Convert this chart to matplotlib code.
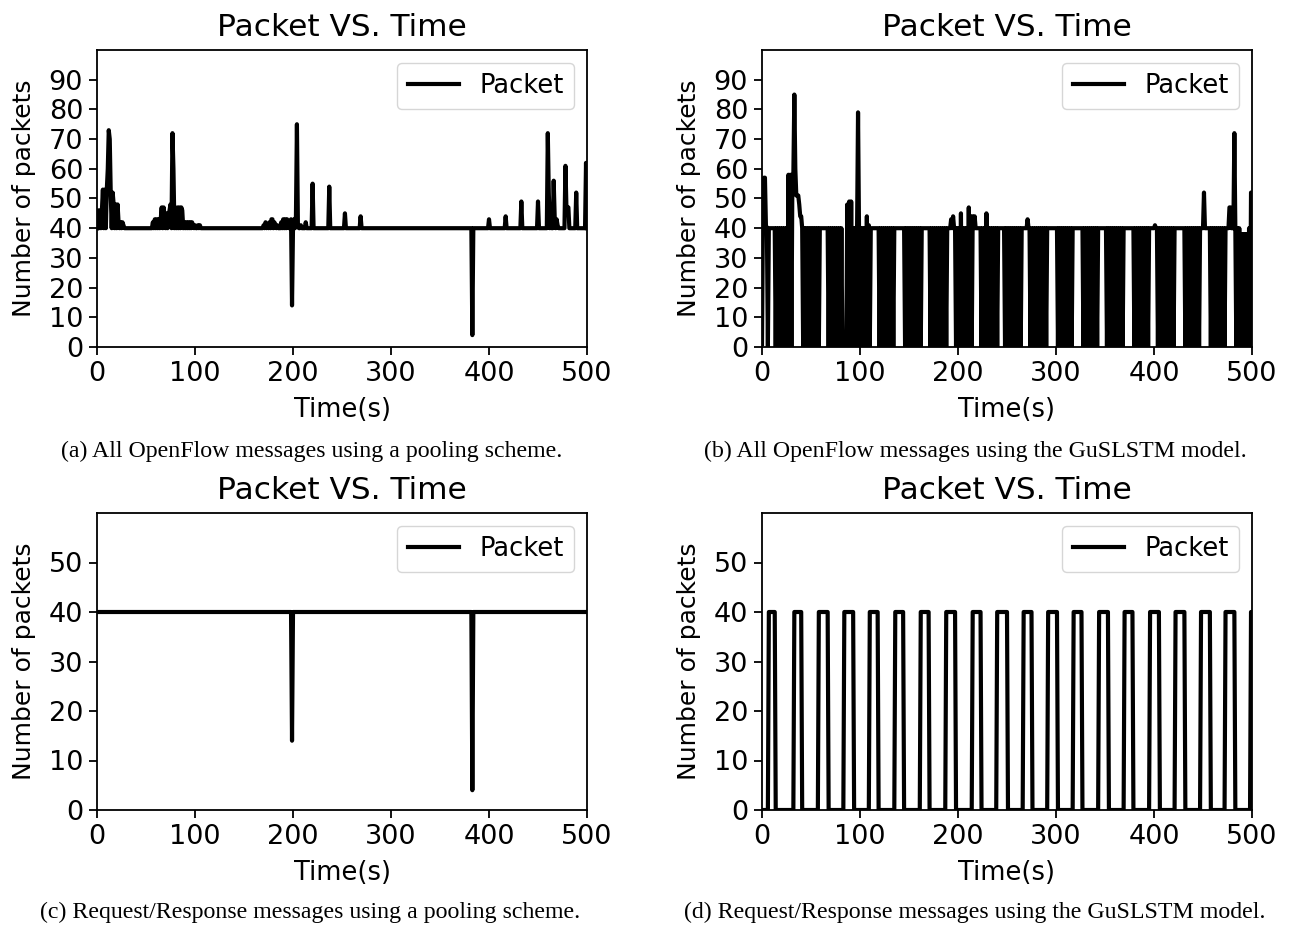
import numpy as np
import matplotlib
matplotlib.use("Agg")
import matplotlib.pyplot as plt

# ---------------- data ----------------
t = np.arange(0, 501)  # seconds

# (a) all OpenFlow messages, pooling scheme: baseline 40 with bursts
a_base = 40
a_times = [1, 2, 3, 4, 5, 6, 7, 8, 9, 10, 11, 12, 13, 14, 15, 16, 17, 18, 19, 20,
           21, 22, 23, 24, 25, 26, 27,
           57, 59, 61, 63, 65, 66, 68, 69, 71, 73, 74, 75, 77, 78, 80, 82, 84, 86, 87,
           89, 91, 93, 95, 97, 98, 100, 103, 105,
           170, 172, 174, 176, 178, 179, 181, 182, 184, 188, 190, 192, 194, 195, 197,
           198, 199, 201, 203, 204, 205, 208, 213, 220, 237, 253, 269,
           383, 400, 417, 433, 450, 460, 461, 463, 466, 467, 469, 470, 478, 479, 480,
           481, 489, 499]
a_vals = [46, 40, 46, 40, 46, 53, 40, 53, 40, 53, 60, 73, 70, 52, 40, 52, 48, 40, 48, 40,
          48, 42, 40, 42, 40, 42, 41,
          42, 43, 43, 43, 43, 47, 47, 44, 45, 44, 46, 48, 72, 60, 46, 47, 47, 47, 46,
          42, 42, 42, 42, 42, 41, 41, 41, 41,
          41, 42, 41, 42, 43, 43, 42, 41, 41, 42, 43, 43, 43, 42, 42,
          43, 14, 43, 44, 75, 41, 41, 42, 55, 54, 45, 44,
          4, 43, 44, 49, 49, 72, 52, 45, 56, 44, 43, 41, 61, 47, 47,
          47, 52, 62]

# (b) all OpenFlow messages, GuSLSTM model: on/off switching 0/40,
# hold intervals at 40, plus bursts
b_high = 40
b_hold = [(7, 12), (33, 40), (59, 66), (111, 118), (136, 144), (163, 170),
          (189, 196), (216, 223), (242, 247), (266, 273), (292, 300), (318, 326),
          (344, 351), (370, 378), (396, 403), (422, 430), (448, 456), (473, 482)]
b_low_spans = [(83, 85)]
b_times = [0, 1, 2, 3, 4, 27, 29, 31, 32, 33, 34, 35, 36, 37, 38, 39, 40,
           87, 89, 91, 98, 107, 109, 193, 195, 203, 211, 213, 215,
           217, 229, 271, 401, 451, 477, 478, 482, 489, 491, 493, 495, 499, 500]
b_vals = [1, 47, 57, 57, 41, 58, 58, 58, 58, 85, 60, 51, 51, 51, 48, 44, 44,
          48, 49, 49, 79, 44, 41, 43, 44, 45, 47, 44, 44,
          44, 45, 43, 41, 52, 47, 47, 72, 38, 38, 38, 38, 52, 52]

# (c) request/response, pooling scheme: constant 40 with two drops
c_base = 40
c_times = [199, 383]
c_vals = [14, 4]

# (d) request/response, GuSLSTM model: pulses of 40 packets
d_high = 40
d_pulses = [(7, 13), (33, 40), (58, 67), (84, 93), (110, 118), (136, 144),
            (162, 170), (188, 197), (215, 223), (240, 242), (243, 245), (246, 250),
            (267, 275), (292, 301), (318, 326), (344, 353), (370, 378), (396, 405),
            (422, 431), (448, 448), (449, 457), (473, 482), (499, 500)]

titles = ["Packet VS. Time"] * 4
captions = ["(a) All OpenFlow messages using a pooling scheme.",
            "(b) All OpenFlow messages using the GuSLSTM model.",
            "(c) Request/Response messages using a pooling scheme.",
            "(d) Request/Response messages using the GuSLSTM model."]
ylims = [(0, 100), (0, 100), (0, 60), (0, 60)]
yticks = [list(range(0, 100, 10)), list(range(0, 100, 10)),
          list(range(0, 60, 10)), list(range(0, 60, 10))]
xticks = [0, 100, 200, 300, 400, 500]

# ---------------- build series ----------------
ya = np.full(t.shape, a_base, dtype=float)
ya[a_times] = a_vals

yb = np.where(t % 2 == 1, b_high, 0).astype(float)
for s, e in b_hold:
    yb[s:e + 1] = b_high
for s, e in b_low_spans:
    yb[s:e + 1] = 1
yb[b_times] = b_vals

yc = np.full(t.shape, c_base, dtype=float)
yc[c_times] = c_vals

yd = np.zeros(t.shape, dtype=float)
for s, e in d_pulses:
    yd[s:e + 1] = d_high

series = [ya, yb, yc, yd]

# ---------------- plot ----------------
W, H = 1290, 926
plt.rcParams['font.family'] = ['DejaVu Sans']
fig = plt.figure(figsize=(W / 100, H / 100), dpi=100)

fs_tick = 19.5
fs_lab = 18
positions = [(97, 50), (762, 50), (97, 513), (762, 513)]
aw, ah = 490, 297
cap_pos = [(312, 451), (975, 451), (310, 912), (975, 912)]

for i in range(4):
    x0, y0 = positions[i]
    ax = fig.add_axes([x0 / W, 1 - (y0 + ah) / H, aw / W, ah / H])
    ax.plot(t, series[i], color='black', linewidth=3, label='Packet')
    ax.set_xlim(0, 500)
    ax.set_ylim(*ylims[i])
    ax.set_xticks(xticks)
    ax.set_yticks(yticks[i])
    ax.tick_params(labelsize=fs_tick, length=6, width=1.3, pad=4)
    for sp in ax.spines.values():
        sp.set_linewidth(1.3)
    ax.set_title(titles[i], fontsize=22.5, pad=10)
    ax.set_xlabel('Time(s)', fontsize=18.5, labelpad=7)
    ax.set_ylabel('Number of packets', fontsize=fs_lab, labelpad=9)
    ax.legend(loc='upper right', fontsize=18.5)
    cx, cy = cap_pos[i]
    fig.text(cx / W, 1 - cy / H, captions[i], ha='center', va='center',
             fontsize=17.2, family=['Liberation Serif'])

fig.savefig('out.png', dpi=100)
